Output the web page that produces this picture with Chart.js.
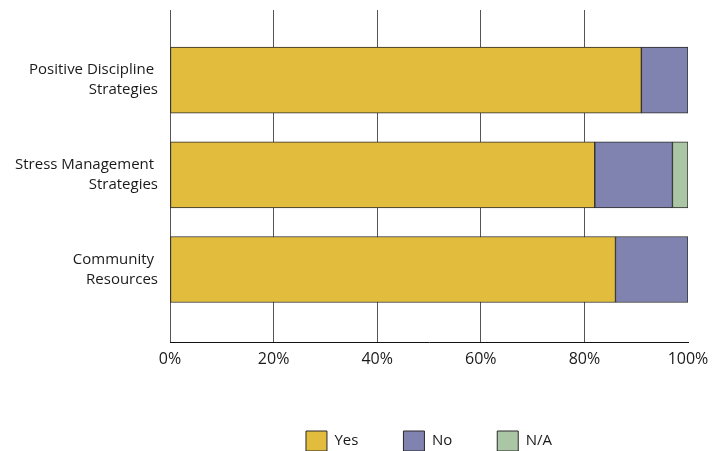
<!DOCTYPE html>
<html>
<head>
<meta charset="utf-8">
<script src="https://cdn.jsdelivr.net/npm/chart.js@4"></script>
<style>
  html, body { margin: 0; padding: 0; background: #ffffff; }
  canvas { display: block; }
</style>
</head>
<body>
<canvas id="chart" width="728" height="451"></canvas>
<script>
// ---- data ----
const categoryLines = [
  ['Positive Discipline ', 'Strategies'],
  ['Stress Management ', 'Strategies'],
  ['Community ', 'Resources']
];
const seriesNames = ['Yes', 'No', 'N/A'];
const yesValues = [91, 82, 86];
const noValues  = [9, 15, 14];
const naValues  = [0, 3, 0];
const xTicks = [0, 20, 40, 60, 80, 100];

const seriesColors = ['#E2BC3C', '#8083AF', '#AAC6A4'];
const allSeries = [yesValues, noValues, naValues];

const datasets = allSeries.map((vals, s) => ({
  label: seriesNames[s],
  data: vals.map((v, i) => ({ x: v, y: i + 1 })),
  backgroundColor: seriesColors[s],
  borderColor: '#2a2a2a',
  borderWidth: 1,
  borderSkipped: false,
  barThickness: 66
}));

const legendSizePlugin = {
  id: 'legendSize',
  beforeLayout(chart) {
    const lg = chart.legend;
    if (lg && !lg._patched) {
      const fit = lg.fit;
      lg.fit = function () { fit.call(this); this.height = 65; };
      lg._patched = true;
    }
  }
};

new Chart(document.getElementById('chart'), {
  type: 'bar',
  data: { datasets },
  plugins: [legendSizePlugin],
  options: {
    indexAxis: 'y',
    responsive: false,
    animation: false,
    layout: { padding: { top: 10, right: 40, left: 0, bottom: 0 } },
    scales: {
      x: {
        type: 'linear',
        stacked: true,
        min: 0,
        max: 100,
        afterBuildTicks: (scale) => { scale.ticks = xTicks.map(v => ({ value: v })); },
        afterFit: (scale) => { scale.height = 44; },
        ticks: {
          callback: (v) => v + '%',
          color: '#1a1a1a',
          padding: 8,
          font: { family: 'Open Sans', size: 16 }
        },
        grid: {
          color: (ctx) => (ctx.tick && ctx.tick.value === 100) ? 'rgba(0,0,0,0)' : '#555555',
          lineWidth: 1,
          drawTicks: false
        },
        border: { display: true, color: '#111111', width: 1 }
      },
      y: {
        type: 'linear',
        stacked: true,
        reverse: true,
        offset: false,
        min: 0.26,
        max: 3.765,
        afterBuildTicks: (scale) => { scale.ticks = categoryLines.map((_, i) => ({ value: i + 1 })); },
        afterFit: (scale) => {
          scale.width = 170;
          scale.paddingTop = 0;
          scale.paddingBottom = 0;
        },
        ticks: {
          callback: (v, i) => categoryLines[i],
          color: '#1a1a1a',
          padding: 12,
          font: { family: 'Open Sans', size: 15, lineHeight: 1.333 }
        },
        grid: { display: false, drawTicks: false, offset: false },
        border: { display: false }
      }
    },
    plugins: {
      legend: {
        position: 'bottom',
        fullSize: false,
        labels: {
          boxWidth: 21,
          boxHeight: 20,
          padding: 45,
          color: '#1a1a1a',
          font: { family: 'Open Sans', size: 15 }
        }
      },
      tooltip: { enabled: false }
    }
  }
});
</script>
</body>
</html>
